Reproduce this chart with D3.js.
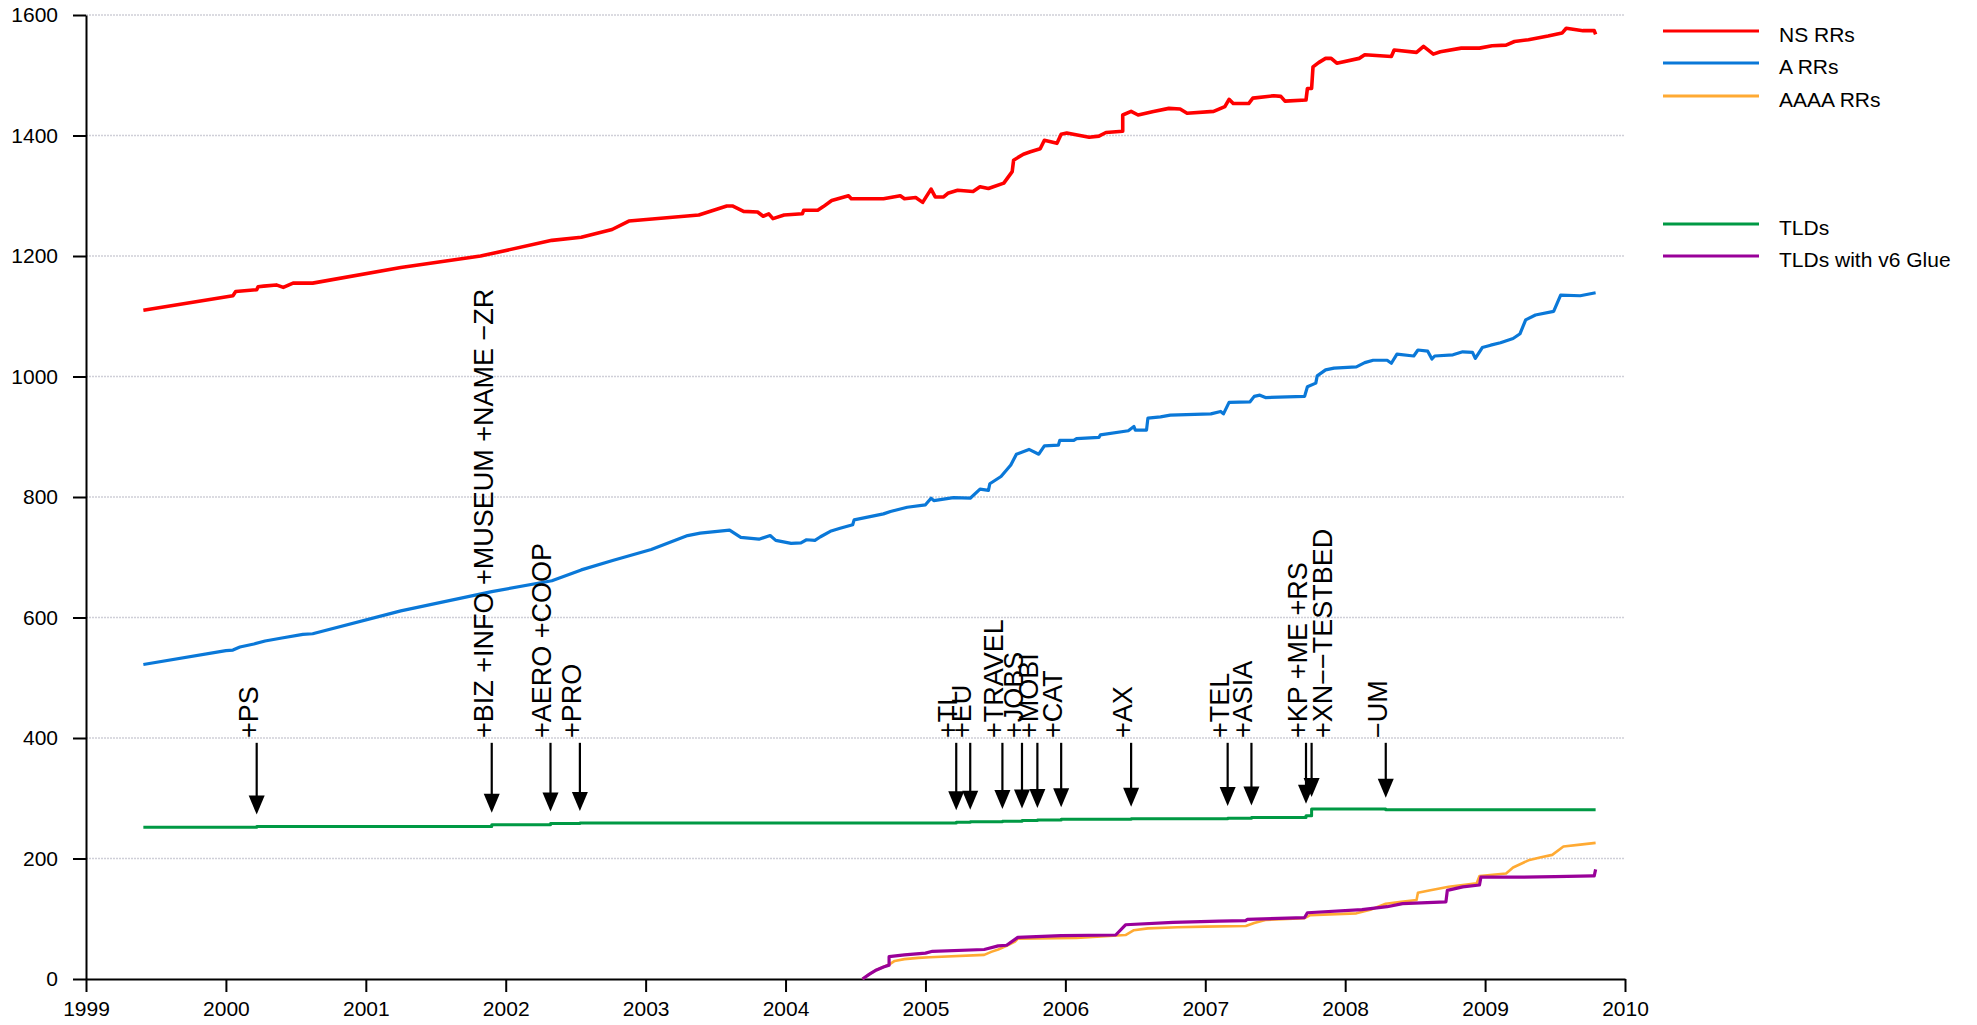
<!DOCTYPE html>
<html>
<head>
<meta charset="utf-8">
<script src="https://cdn.jsdelivr.net/npm/d3@7"></script>
<style>
  html, body { margin: 0; padding: 0; background: #fff; }
  svg { display: block; font-family: "Liberation Sans", Arial, Helvetica, sans-serif; }
</style>
</head>
<body>
<svg id="chart" width="1977" height="1025"></svg>
<script>
// ---------------- DATA ----------------
const xTicks = [1999, 2000, 2001, 2002, 2003, 2004, 2005, 2006, 2007, 2008, 2009, 2010];
const yTicks = [0, 200, 400, 600, 800, 1000, 1200, 1400, 1600];

const seriesNames = ["NS RRs", "A RRs", "AAAA RRs", "TLDs", "TLDs with v6 Glue"];

const nsRRs = [[1999.41,1110],[2000.05,1134],[2000.07,1141],[2000.22,1144],[2000.23,1149],[2000.27,1150],[2000.36,1152],[2000.41,1148],[2000.48,1155],[2000.62,1155],[2001.25,1181],[2001.82,1200],[2002.33,1226],[2002.54,1231],[2002.76,1244],[2002.88,1258],[2003.38,1268],[2003.58,1283],[2003.62,1283],[2003.70,1274],[2003.80,1273],[2003.84,1266],[2003.88,1270],[2003.91,1262],[2003.99,1268],[2004.12,1270],[2004.13,1276],[2004.23,1276],[2004.27,1282],[2004.33,1292],[2004.45,1300],[2004.47,1295],[2004.70,1295],[2004.82,1300],[2004.85,1295],[2004.93,1297],[2004.98,1289],[2005.04,1311],[2005.07,1298],[2005.13,1298],[2005.16,1304],[2005.23,1309],[2005.34,1307],[2005.39,1315],[2005.45,1312],[2005.56,1321],[2005.62,1340],[2005.63,1359],[2005.70,1369],[2005.75,1373],[2005.82,1378],[2005.85,1392],[2005.94,1387],[2005.97,1402],[2006.01,1404],[2006.17,1397],[2006.24,1399],[2006.29,1405],[2006.41,1407],[2006.41,1434],[2006.47,1440],[2006.52,1434],[2006.63,1440],[2006.74,1445],[2006.82,1444],[2006.87,1437],[2007.06,1440],[2007.14,1448],[2007.17,1460],[2007.20,1453],[2007.31,1453],[2007.34,1462],[2007.49,1466],[2007.54,1465],[2007.57,1457],[2007.72,1459],[2007.73,1478],[2007.76,1478],[2007.77,1514],[2007.81,1521],[2007.86,1528],[2007.90,1528],[2007.94,1520],[2008.10,1528],[2008.14,1534],[2008.33,1531],[2008.35,1542],[2008.51,1538],[2008.56,1548],[2008.63,1535],[2008.68,1539],[2008.83,1545],[2008.96,1545],[2009.05,1549],[2009.15,1550],[2009.21,1556],[2009.31,1559],[2009.45,1565],[2009.55,1570],[2009.58,1578],[2009.70,1574],[2009.78,1574],[2009.79,1568]];

const aRRs = [[1999.41,522],[2000.0,545],[2000.05,546],[2000.1,551],[2000.2,556],[2000.28,561],[2000.4,566],[2000.55,572],[2000.62,573],[2001.25,611],[2001.9,643],[2002.33,661],[2002.54,679],[2002.77,695],[2003.04,713],[2003.3,736],[2003.39,740],[2003.6,745],[2003.68,733],[2003.81,730],[2003.89,736],[2003.93,728],[2004.04,723],[2004.11,724],[2004.15,729],[2004.21,728],[2004.25,734],[2004.32,743],[2004.39,748],[2004.48,754],[2004.49,762],[2004.70,772],[2004.75,776],[2004.87,783],[2005.0,787],[2005.04,798],[2005.06,794],[2005.20,799],[2005.32,798],[2005.39,813],[2005.45,811],[2005.46,822],[2005.54,834],[2005.61,853],[2005.65,871],[2005.74,879],[2005.81,871],[2005.85,885],[2005.95,886],[2005.96,894],[2006.06,894],[2006.08,897],[2006.24,899],[2006.25,903],[2006.45,910],[2006.49,917],[2006.50,911],[2006.58,911],[2006.59,931],[2006.68,933],[2006.75,936],[2007.04,938],[2007.11,942],[2007.13,938],[2007.17,957],[2007.32,958],[2007.35,967],[2007.39,969],[2007.43,965],[2007.71,967],[2007.73,983],[2007.79,989],[2007.8,1001],[2007.86,1011],[2007.92,1014],[2008.08,1016],[2008.14,1023],[2008.2,1027],[2008.3,1027],[2008.33,1022],[2008.37,1037],[2008.49,1034],[2008.52,1044],[2008.59,1042],[2008.62,1029],[2008.64,1034],[2008.77,1036],[2008.84,1041],[2008.91,1040],[2008.93,1030],[2008.98,1048],[2009.04,1052],[2009.11,1056],[2009.2,1063],[2009.25,1071],[2009.29,1094],[2009.36,1102],[2009.49,1108],[2009.54,1135],[2009.68,1134],[2009.79,1139]];

const aaaaRRs = [[2004.55,0],[2004.6,8],[2004.65,15],[2004.7,20],[2004.74,24],[2004.78,30],[2004.85,33],[2004.95,35],[2005.03,36],[2005.42,40],[2005.47,45],[2005.52,49],[2005.58,55],[2005.64,62],[2005.66,67],[2006.08,68],[2006.43,73],[2006.49,81],[2006.59,84],[2006.8,86],[2007.0,87],[2007.29,88],[2007.35,93],[2007.43,98],[2007.71,101],[2007.75,106],[2008.08,109],[2008.18,115],[2008.29,125],[2008.4,128],[2008.51,131],[2008.52,143],[2008.6,147],[2008.74,153],[2008.94,159],[2008.96,171],[2009.15,175],[2009.2,185],[2009.31,197],[2009.4,202],[2009.48,206],[2009.56,220],[2009.68,223],[2009.79,226]];

const tlds = [[1999.41,252],[2000.22,253],[2001.9,256],[2002.32,258],[2002.53,259],[2005.22,260],[2005.32,261],[2005.55,262],[2005.69,263],[2005.8,264],[2005.97,265],[2006.47,266],[2007.16,267],[2007.33,268],[2007.72,271],[2007.76,282],[2008.29,281],[2009.79,281]];

const tldsV6Glue = [[2004.55,0],[2004.6,8],[2004.65,15],[2004.7,20],[2004.74,23],[2004.74,37],[2004.85,40],[2005.0,43],[2005.05,46],[2005.42,49],[2005.52,55],[2005.58,56],[2005.66,69],[2005.97,72],[2006.36,73],[2006.43,90],[2006.77,94],[2007.1,96],[2007.29,97],[2007.3,99],[2007.71,102],[2007.73,110],[2008.12,115],[2008.3,120],[2008.41,125],[2008.72,128],[2008.73,147],[2008.84,153],[2008.96,156],[2008.97,169],[2009.27,169],[2009.5,170],[2009.77,171],[2009.78,171],[2009.79,182]];

const eventLabels = ["+PS", "+BIZ +INFO +MUSEUM +NAME \u2212ZR", "+AERO +COOP", "+PRO", "+TL", "+EU", "+TRAVEL", "+JOBS", "+MOBI", "+CAT", "+AX", "+TEL", "+ASIA", "+KP +ME +RS", "+XN\u2212\u2212TESTBED", "\u2212UM"];
const eventDates = [2000.22, 2001.9, 2002.32, 2002.53, 2005.22, 2005.32, 2005.55, 2005.69, 2005.80, 2005.97, 2006.47, 2007.16, 2007.33, 2007.72, 2007.76, 2008.29];

// ---------------- CHART ----------------
const svg = d3.select("#chart");
const x = d3.scaleLinear().domain([1999, 2010]).range([86, 1625]);
const y = d3.scaleLinear().domain([0, 1600]).range([979, 15]);

const colors = {
  "NS RRs": "#ff0000",
  "A RRs": "#0a78d8",
  "AAAA RRs": "#ffaa33",
  "TLDs": "#009944",
  "TLDs with v6 Glue": "#990099"
};

// gridlines
svg.append("g").selectAll("line")
  .data(yTicks.filter(v => v > 0))
  .join("line")
  .attr("x1", x(1999)).attr("x2", x(2010))
  .attr("y1", d => y(d)).attr("y2", d => y(d))
  .attr("stroke", "#cfcfd8").attr("stroke-width", 1.5)
  .attr("stroke-dasharray", "2,1");

// axes
const yAxis = d3.axisLeft(y).tickValues(yTicks).tickSize(13).tickSizeOuter(0).tickPadding(15)
  .tickFormat(d3.format("d"));
const xAxis = d3.axisBottom(x).tickValues(xTicks).tickSize(13).tickSizeOuter(0).tickPadding(9)
  .tickFormat(d3.format("d"));

const gy = svg.append("g").attr("transform", `translate(${x(1999)},0)`).call(yAxis);
const gx = svg.append("g").attr("transform", `translate(0,${y(0)})`).call(xAxis);
[gx, gy].forEach(g => {
  g.selectAll("path, line").attr("stroke", "#000").attr("stroke-width", 2);
  g.selectAll("text").attr("fill", "#000").style("font-size", "21px")
    .style("font-family", '"Liberation Sans", Arial, sans-serif');
});

// lines
const line = d3.line().x(d => x(d[0])).y(d => y(d[1]));
const stepLine = d3.line().x(d => x(d[0])).y(d => y(d[1])).curve(d3.curveStepAfter);

const seriesDefs = [
  { name: "NS RRs", data: nsRRs, gen: line, w: 3.6 },
  { name: "A RRs", data: aRRs, gen: line, w: 3.2 },
  { name: "AAAA RRs", data: aaaaRRs, gen: line, w: 2.6 },
  { name: "TLDs", data: tlds, gen: stepLine, w: 3 },
  { name: "TLDs with v6 Glue", data: tldsV6Glue, gen: line, w: 3.2 }
];

svg.append("g").selectAll("path")
  .data(seriesDefs)
  .join("path")
  .attr("d", d => d.gen(d.data))
  .attr("fill", "none")
  .attr("stroke", d => colors[d.name])
  .attr("stroke-width", d => d.w)
  .attr("stroke-linejoin", "round");

// event annotations
function tldAt(t) {
  let v = tlds[0][1];
  for (const p of tlds) { if (p[0] <= t + 1e-9) v = p[1]; }
  return v;
}
const labelBaseValue = 400;  // where rotated text starts
const arrowTopValue = 392;
const labelFont = 27;

const ann = svg.append("g");
let prevRight = -Infinity;
eventLabels.forEach((lab, i) => {
  const ax = x(eventDates[i]);
  let right = ax;
  if (ax - prevRight < 10) right = prevRight + labelFont - 2;
  prevRight = right;

  ann.append("text")
    .attr("transform", `translate(${right + 1},${y(labelBaseValue)}) rotate(-90)`)
    .attr("text-anchor", "start")
    .style("font-size", labelFont + "px")
    .style("font-family", '"Liberation Sans", Arial, sans-serif')
    .attr("fill", "#000")
    .text(lab);

  const y0 = y(arrowTopValue);
  const tip = y(tldAt(eventDates[i]) + 20);
  const headLen = 19, headHalf = 8;
  ann.append("line")
    .attr("x1", ax).attr("x2", ax)
    .attr("y1", y0).attr("y2", tip - headLen + 2)
    .attr("stroke", "#000").attr("stroke-width", 2.2);
  ann.append("path")
    .attr("d", `M${ax - headHalf},${tip - headLen} L${ax + headHalf},${tip - headLen} L${ax},${tip} Z`)
    .attr("fill", "#000");
});

// legend
const legendRows = [
  { name: "NS RRs", y: 31 },
  { name: "A RRs", y: 63 },
  { name: "AAAA RRs", y: 96 },
  { name: "TLDs", y: 224 },
  { name: "TLDs with v6 Glue", y: 256 }
];
const lg = svg.append("g");
legendRows.forEach(r => {
  lg.append("line")
    .attr("x1", 1663).attr("x2", 1759)
    .attr("y1", r.y).attr("y2", r.y)
    .attr("stroke", colors[r.name]).attr("stroke-width", 3);
  lg.append("text")
    .attr("x", 1779).attr("y", r.y + 3)
    .attr("dy", "0.36em")
    .style("font-size", "21px")
    .style("font-family", '"Liberation Sans", Arial, sans-serif')
    .attr("fill", "#000")
    .text(r.name);
});
</script>
</body>
</html>
